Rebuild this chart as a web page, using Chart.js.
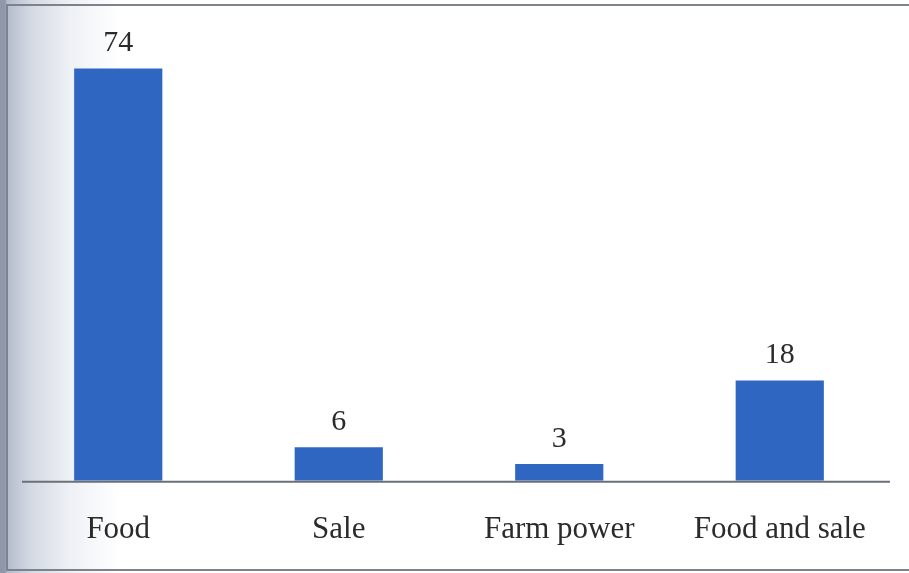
<!DOCTYPE html>
<html lang="en">
<head>
    <meta charset="UTF-8">
    <title>Purpose</title>
    <script src="https://cdn.jsdelivr.net/npm/chart.js"></script>
    <style>
        html, body {
            margin: 0;
            padding: 0;
            background: #9aa3b0;
        }
        .frame {
            position: relative;
            width: 909px;
            height: 573px;
            background: linear-gradient(to right, #8e98a8 0px, #8e98a8 5px, #b3bccb 7px, #d3d9e3 30px, #eef1f5 70px, #ffffff 120px);
            overflow: hidden;
        }
        .frame::before {
            content: "";
            position: absolute;
            left: 6px;
            top: 4px;
            right: -4px;
            bottom: 2px;
            border: 2px solid #7d838c;
            pointer-events: none;
        }
        canvas {
            position: absolute;
            left: 0;
            top: 0;
        }
    </style>
</head>
<body>
    <div class="frame">
        <canvas id="purposeChart" width="909" height="573"></canvas>
    </div>

    <script>
        const categories = ['Food', 'Sale', 'Farm power', 'Food and sale'];
        const shares = [74, 6, 3, 18];

        // baseline under the bars, a bit shorter on the left than the plot area
        const baseline = {
            id: 'baseline',
            afterDatasetsDraw(chart) {
                const ctx = chart.ctx;
                const y = chart.scales.y.getPixelForValue(0);
                ctx.save();
                ctx.strokeStyle = '#6b7078';
                ctx.lineWidth = 2;
                ctx.beginPath();
                ctx.moveTo(22, y + 1);
                ctx.lineTo(890, y + 1);
                ctx.stroke();
                ctx.restore();
            }
        };

        // value printed above each bar
        const valueLabels = {
            id: 'valueLabels',
            afterDatasetsDraw(chart) {
                const ctx = chart.ctx;
                const meta = chart.getDatasetMeta(0);
                ctx.save();
                ctx.fillStyle = '#2b2b2b';
                ctx.font = '30px "Liberation Serif", "Times New Roman", serif';
                ctx.textAlign = 'center';
                ctx.textBaseline = 'alphabetic';
                meta.data.forEach((bar, i) => {
                    ctx.fillText(String(shares[i]), bar.x, bar.y - 17);
                });
                ctx.restore();
            }
        };

        new Chart(document.getElementById('purposeChart').getContext('2d'), {
            type: 'bar',
            data: {
                labels: categories,
                datasets: [{
                    data: shares,
                    backgroundColor: '#2f66c2',
                    borderWidth: 0,
                    barPercentage: 0.4,
                    categoryPercentage: 1.0
                }]
            },
            options: {
                responsive: false,
                animation: false,
                layout: { padding: { left: 8, right: 19, top: 35, bottom: -5 } },
                plugins: {
                    legend: { display: false },
                    tooltip: { enabled: false }
                },
                scales: {
                    x: {
                        grid: { display: false, drawTicks: false },
                        border: { display: false },
                        ticks: {
                            color: '#2b2b2b',
                            padding: 30,
                            maxRotation: 0,
                            font: { family: '"Liberation Serif", "Times New Roman", serif', size: 31 }
                        }
                    },
                    y: {
                        display: false,
                        min: 0,
                        max: 80
                    }
                }
            },
            plugins: [baseline, valueLabels]
        });
    </script>
</body>
</html>
